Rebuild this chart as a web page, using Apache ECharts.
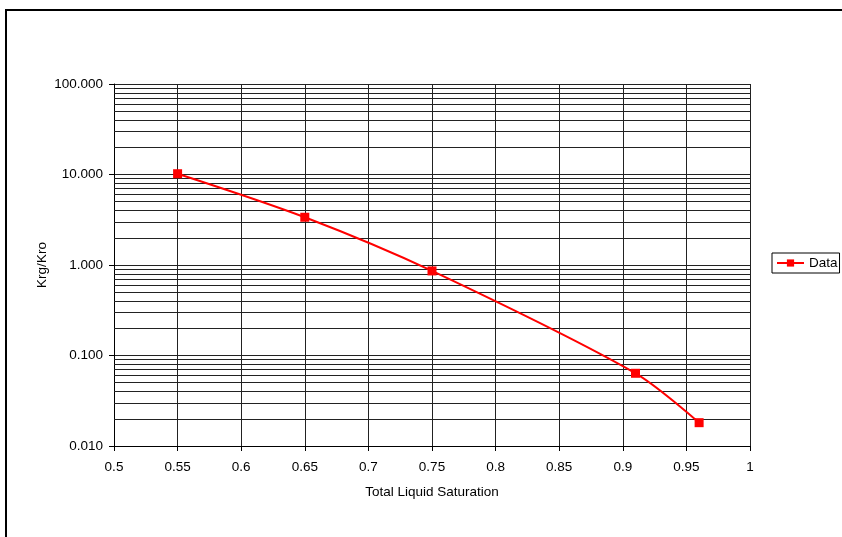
<!DOCTYPE html>
<html>
<head>
<meta charset="utf-8">
<script src="https://cdn.jsdelivr.net/npm/echarts@6/dist/echarts.min.js"></script>
<style>
html,body{margin:0;padding:0;background:#fff;}
#chart{width:842px;height:537px;}
</style>
</head>
<body>
<div id="chart"></div>
<script>
var saturation = [0.55, 0.65, 0.75, 0.91, 0.96];
var krgKro = [10.2, 3.37, 0.86, 0.0636, 0.0181];
var seriesName = 'Data';
var xTitle = 'Total Liquid Saturation';
var yTitle = 'Krg/Kro';
var decades = [0.01, 0.1, 1, 10];
var minorSteps = [2, 3, 4, 5, 6, 7, 8, 9];

var minorLines = [];
decades.forEach(function (d) {
  minorSteps.forEach(function (m) {
    minorLines.push({ yAxis: +(d * m).toPrecision(3) });
  });
});

var font = 'Liberation Sans, Arial, sans-serif';
var chart = echarts.init(document.getElementById('chart'), null, { renderer: 'canvas' });
chart.setOption({
  animation: false,
  backgroundColor: '#fff',
  graphic: [{
    type: 'rect',
    shape: { x: 6, y: 10, width: 900, height: 600 },
    style: { fill: 'none', stroke: '#000', lineWidth: 2 },
    silent: true,
    z: -10
  }],
  grid: { left: 114, right: 92, top: 84, bottom: 91, containLabel: false },
  legend: {
    data: [seriesName],
    left: 772,
    top: 253,
    orient: 'vertical',
    padding: [3, 2, 3, 4],
    borderColor: '#000',
    borderWidth: 1,
    borderRadius: 0,
    itemWidth: 27,
    itemHeight: 9,
    textStyle: { fontFamily: font, fontSize: 13.5, color: '#000' }
  },
  xAxis: {
    type: 'value',
    min: 0.5,
    max: 1,
    interval: 0.05,
    name: xTitle,
    nameLocation: 'middle',
    nameGap: 39,
    nameTextStyle: { fontFamily: font, fontSize: 13.5, color: '#000' },
    axisLine: { show: true, onZero: false, lineStyle: { color: '#000', width: 1 } },
    axisTick: { show: true, length: 5, lineStyle: { color: '#000' } },
    axisLabel: {
      margin: 14,
      fontFamily: font, fontSize: 13.5, color: '#000',
      formatter: function (v) { return String(+v.toFixed(2)); }
    },
    splitLine: { show: true, lineStyle: { color: '#222', width: 1 } }
  },
  yAxis: {
    type: 'log',
    logBase: 10,
    min: 0.01,
    max: 100,
    name: yTitle,
    nameLocation: 'middle',
    nameGap: 65,
    nameMoveOverlap: false,
    nameTextStyle: { fontFamily: font, fontSize: 13.5, color: '#000' },
    axisLine: { show: true, lineStyle: { color: '#000', width: 1 } },
    axisTick: { show: true, length: 5, lineStyle: { color: '#000' } },
    axisLabel: {
      margin: 11,
      fontFamily: font, fontSize: 13.5, color: '#000',
      formatter: function (v) { return (+v).toFixed(3); }
    },
    splitLine: { show: true, lineStyle: { color: '#222', width: 1 } }
  },
  series: [{
    name: seriesName,
    type: 'line',
    data: saturation.map(function (x, i) { return [x, krgKro[i]]; }),
    smooth: 0.3,
    symbol: 'rect',
    symbolSize: 9,
    lineStyle: { color: '#ff0000', width: 2 },
    itemStyle: { color: '#ff0000' },
    z: 5,
    markLine: {
      silent: true,
      symbol: ['none', 'none'],
      label: { show: false },
      lineStyle: { color: '#222', width: 1, type: 'solid' },
      emphasis: { disabled: true },
      data: minorLines,
      z: 1
    }
  }]
});
</script>
</body>
</html>
